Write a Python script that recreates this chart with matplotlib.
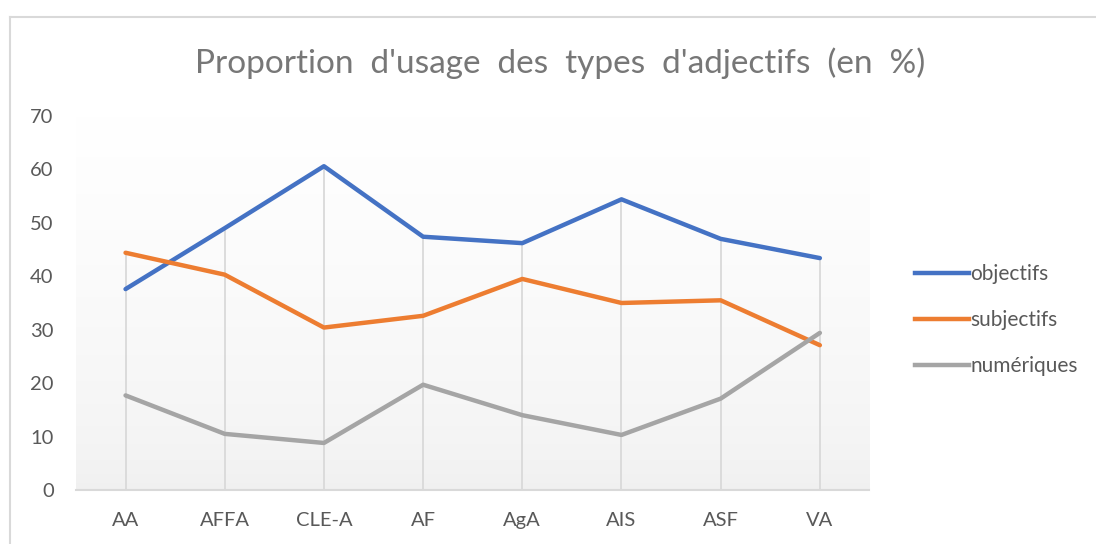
import numpy as np
import matplotlib.pyplot as plt
from matplotlib.lines import Line2D

# data
categories = ['AA', 'AFFA', 'CLE-A', 'AF', 'AgA', 'AIS', 'ASF', 'VA']
objectifs = [37.6, 49.0, 60.6, 47.4, 46.2, 54.4, 47.0, 43.4]
subjectifs = [44.4, 40.3, 30.4, 32.6, 39.5, 35.0, 35.5, 27.1]
numeriques = [17.7, 10.5, 8.8, 19.7, 14.0, 10.3, 17.1, 29.4]
series_names = ['objectifs', 'subjectifs', 'numériques']
colors = ['#4472C4', '#ED7D31', '#A5A5A5']

plt.rcParams['font.family'] = ['Lato', 'DejaVu Sans']
text_col = '#595959'

fig = plt.figure(figsize=(10.96, 5.44), dpi=100)
ax = fig.add_axes([0.0693, 0.0993, 0.724, 0.6875])

x = np.arange(len(categories))

# gradient plot area
grad = np.linspace(1, 0, 256).reshape(-1, 1)
top_c = np.array([1.0, 1.0, 1.0])
bot_c = np.array([0.94, 0.94, 0.94])
img = bot_c + (top_c - bot_c) * grad[..., None] ** 0.6
ax.imshow(img.reshape(256, 1, 3), extent=[0, 1, 0, 1], transform=ax.transAxes,
          aspect='auto', zorder=0)

# drop lines
tops = np.max([objectifs, subjectifs, numeriques], axis=0)
ax.vlines(x, 0, tops, color='#d9d9d9', lw=1.3, zorder=1)

for vals, name, c in zip([objectifs, subjectifs, numeriques], series_names, colors):
    ax.plot(x, vals, color=c, lw=3.2, label=name, zorder=3,
            solid_capstyle='round', solid_joinstyle='round')

ax.set_xlim(-0.5, len(categories) - 0.5)
ax.set_ylim(0, 70)
ax.set_yticks(range(0, 71, 10))
ax.set_xticks(x)
ax.set_xticklabels(categories)
ax.tick_params(axis='both', length=0, labelsize=14.5, colors=text_col)
ax.tick_params(axis='y', pad=16)
ax.tick_params(axis='x', pad=16)
for s in ['top', 'right', 'left']:
    ax.spines[s].set_visible(False)
ax.spines['bottom'].set_color('#d9d9d9')
ax.spines['bottom'].set_linewidth(1.5)

fig.text(0.511, 0.884, "Proportion  d'usage  des  types  d'adjectifs  (en  %)",
         ha='center', va='center', fontsize=24, color='#777777')

handles = [Line2D([0], [0], color=c, lw=3.2) for c in colors]
leg = fig.legend(handles, series_names, loc='center left', bbox_to_anchor=(0.818, 0.411),
                 frameon=False, fontsize=15, handlelength=2.6, handletextpad=0.05,
                 labelspacing=1.25, labelcolor=text_col)

# chart border (left and top visible)
fig.add_artist(Line2D([0.0095, 0.0095], [0, 0.968], transform=fig.transFigure,
                      color='#d9d9d9', lw=1.5))
fig.add_artist(Line2D([0.0095, 1.0], [0.968, 0.968], transform=fig.transFigure,
                      color='#d9d9d9', lw=1.5))

fig.savefig('out.png', dpi=100)
